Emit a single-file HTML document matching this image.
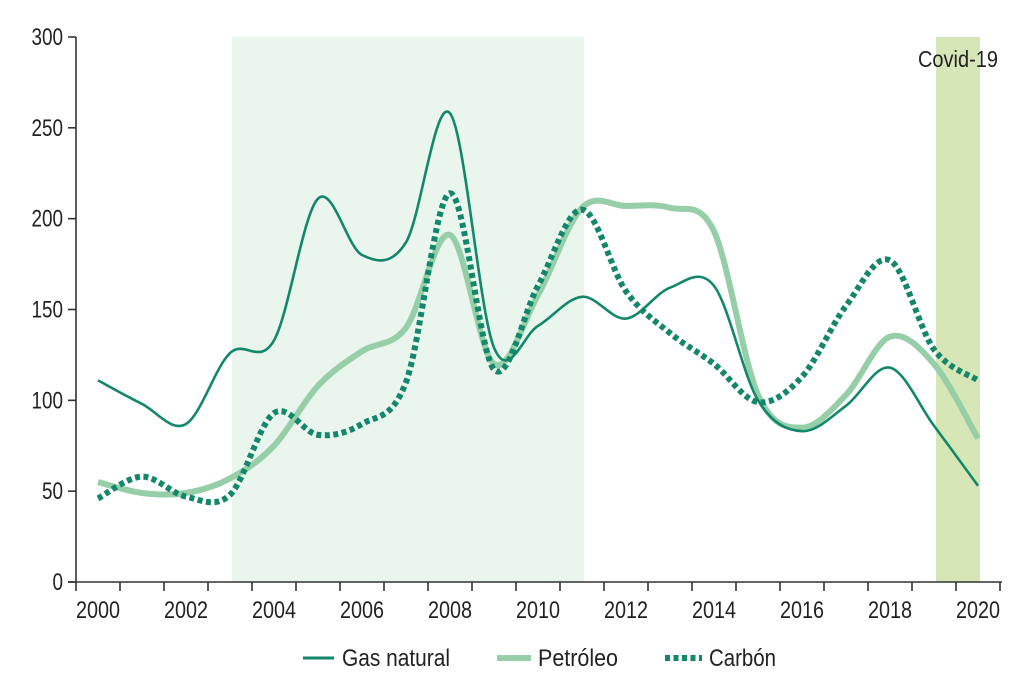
<!DOCTYPE html>
<html><head><meta charset="utf-8"><style>
html,body{margin:0;padding:0;background:#fff;}
svg{display:block;font-family:"Liberation Sans",sans-serif;}
</style></head><body>
<svg id="s" width="1024" height="688" viewBox="0 0 1024 688" xmlns="http://www.w3.org/2000/svg">
<rect x="232" y="37" width="352" height="545" fill="#e9f5ed"/>
<rect x="936" y="37" width="44" height="545" fill="#d6e6b6"/>
<text x="958" y="67" font-size="23" text-anchor="middle" fill="#222" textLength="80" lengthAdjust="spacingAndGlyphs">Covid-19</text>
<g id="axes" stroke="#333" stroke-width="1.6" fill="none"></g>
<g id="labels" font-size="24" fill="#222"></g>
<g id="series" fill="none" stroke-linejoin="round"></g>
<g font-size="24" fill="#222">
<line x1="303" y1="658" x2="334" y2="658" stroke="#13876b" stroke-width="3"/>
<text x="342" y="666" textLength="108" lengthAdjust="spacingAndGlyphs">Gas natural</text>
<line x1="497" y1="658" x2="531" y2="658" stroke="#96cfa7" stroke-width="6"/>
<text x="538" y="666" textLength="80" lengthAdjust="spacingAndGlyphs">Petróleo</text>
<line x1="665" y1="658" x2="702" y2="658" stroke="#13876b" stroke-width="6" stroke-dasharray="5 3.5"/>
<text x="709" y="666" textLength="67" lengthAdjust="spacingAndGlyphs">Carbón</text>
</g>
</svg>
<script>
var NS="http://www.w3.org/2000/svg";
function el(p,t,a,txt){var e=document.createElementNS(NS,t);for(var k in a)e.setAttribute(k,a[k]);if(txt!=null)e.textContent=txt;document.getElementById(p).appendChild(e);return e;}
function X(i){return 98+44*i;}
function Y(v){return 582-v*1.8167;}
el("axes","line",{x1:76,y1:37,x2:76,y2:582});
el("axes","line",{x1:68,y1:582,x2:1002,y2:582});
for(var v=0;v<=300;v+=50){el("axes","line",{x1:68,y1:Y(v),x2:76,y2:Y(v)});
 el("labels","text",{x:63,y:Y(v)+8,"text-anchor":"end",textLength:String(v).length*10.5,lengthAdjust:"spacingAndGlyphs"},v);}
for(var i=0;i<=21;i++){el("axes","line",{x1:76+44*i,y1:582,x2:76+44*i,y2:591});}
for(var yr=2000;yr<=2020;yr+=2){el("labels","text",{x:X(yr-2000),y:618,"text-anchor":"middle",textLength:44,lengthAdjust:"spacingAndGlyphs"},yr);}
function path(d){var p=d.map(function(v,i){return [X(i),Y(v)];});var s="M"+p[0][0]+","+p[0][1];
 for(var i=0;i<p.length-1;i++){var p0=p[i-1]||p[i],p1=p[i],p2=p[i+1],p3=p[i+2]||p2;var t=6;
  s+=" C"+(p1[0]+(p2[0]-p0[0])/t)+","+(p1[1]+(p2[1]-p0[1])/t)+" "+(p2[0]-(p3[0]-p1[0])/t)+","+(p2[1]-(p3[1]-p1[1])/t)+" "+p2[0]+","+p2[1];}
 return s;}
var pet=[55,49,49,57,75,108,127,140,191,120,158,206,207,206,193,103,85,103,135,120,79];
var gas=[111,98,87,126,133,211,180,187,258,129,141,157,145,162,163,100,83,97,118,86,53];
var car=[46,58,47,48,93,81,87,110,214,117,163,205,160,137,120,99,113,152,177,128,111];
el("series","path",{d:path(pet),stroke:"#96cfa7","stroke-width":6});
el("series","path",{d:path(gas),stroke:"#13876b","stroke-width":2.6});
el("series","path",{d:path(car),stroke:"#13876b","stroke-width":6,"stroke-dasharray":"5 3.5"});
</script>
</body></html>
